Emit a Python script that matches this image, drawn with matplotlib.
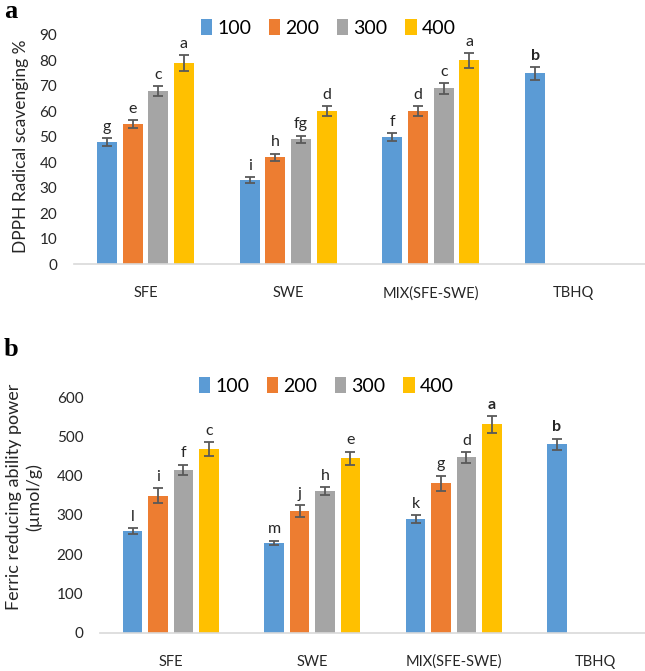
import numpy as np
import matplotlib
matplotlib.use("Agg")
import matplotlib.pyplot as plt

# ============== PLT Configuration ================
plt.rcParams.update({
    "font.family": ["Lato", "DejaVu Sans"],
    "axes.edgecolor": "#d9d9d9",
})

# ============== Data ================
categories = ["SFE", "SWE", "MIX(SFE-SWE)", "TBHQ"]
series_names = ["100", "200", "300", "400"]
colors = ["#5b9bd5", "#ed7d31", "#a5a5a5", "#ffc000"]

# panel a: DPPH radical scavenging %
dpph_100 = [48, 33, 50, 75]
dpph_200 = [55, 42, 60, np.nan]
dpph_300 = [68, 49, 69, np.nan]
dpph_400 = [79, 60, 80, np.nan]
dpph_err_100 = [1.5, 1.0, 1.5, 2.5]
dpph_err_200 = [1.7, 1.4, 2.0, np.nan]
dpph_err_300 = [2.0, 1.5, 2.0, np.nan]
dpph_err_400 = [3.0, 2.0, 3.0, np.nan]
dpph_letters_100 = ["g", "i", "f", "b"]
dpph_letters_200 = ["e", "h", "d", ""]
dpph_letters_300 = ["c", "fg", "c", ""]
dpph_letters_400 = ["a", "d", "a", ""]
dpph_bold = [(0, 3)]  # (series index, category index)

# panel b: FRAP (umol/g)
frap_100 = [258, 228, 290, 480]
frap_200 = [349, 310, 380, np.nan]
frap_300 = [415, 360, 446, np.nan]
frap_400 = [468, 444, 530, np.nan]
frap_err_100 = [8, 6, 10, 14]
frap_err_200 = [18, 15, 20, np.nan]
frap_err_300 = [13, 10, 14, np.nan]
frap_err_400 = [18, 17, 22, np.nan]
frap_letters_100 = ["l", "m", "k", "b"]
frap_letters_200 = ["i", "j", "g", ""]
frap_letters_300 = ["f", "h", "d", ""]
frap_letters_400 = ["c", "e", "a", ""]
frap_bold = [(0, 3), (3, 2)]

W, H = 645, 671
fig = plt.figure(figsize=(W / 100, H / 100), dpi=100)


def px_axes(left, right, top, bottom):
    return fig.add_axes([left / W, 1 - bottom / H, (right - left) / W, (bottom - top) / H])


def draw_panel(ax, vals, errs, letters, bold, ymax, ystep):
    x = np.arange(len(categories))
    step, width = 0.18, 0.14
    for i, (v, e, lab) in enumerate(zip(vals, errs, letters)):
        xs = x + (i - 1.5) * step
        ax.bar(xs, v, width, color=colors[i], label=series_names[i], zorder=2)
        ax.errorbar(xs, v, yerr=e, fmt="none", ecolor="#595959",
                    elinewidth=1.3, capsize=3.5, capthick=1.3, zorder=3)
        for j, (xi, vi, ei, li) in enumerate(zip(xs, v, e, lab)):
            if not li:
                continue
            ax.annotate(li, (xi, vi + ei), xytext=(0, 3), textcoords="offset points",
                        ha="center", va="bottom", fontsize=11.5,
                        fontweight="bold" if (i, j) in bold else "normal", color="#262626")
    ax.set_xlim(-0.5, len(categories) - 0.5)
    ax.set_ylim(0, ymax)
    ax.set_yticks(np.arange(0, ymax + 1, ystep))
    ax.set_xticks(x)
    ax.set_xticklabels(categories)
    ax.tick_params(axis="both", length=0, labelsize=11, labelcolor="#262626")
    ax.tick_params(axis="y", pad=12)
    ax.tick_params(axis="x", pad=16, labelsize=10.5)
    for s in ["top", "right", "left"]:
        ax.spines[s].set_visible(False)
    ax.spines["bottom"].set_linewidth(1.2)


def add_legend(ax, cx, cy):
    fig.legend(*ax.get_legend_handles_labels(), loc="center",
               bbox_to_anchor=(cx / W, 1 - cy / H), ncol=4, frameon=False,
               fontsize=14, handlelength=0.6, handleheight=0.9,
               handletextpad=0.25, columnspacing=0.9)


# ================ Panel a ===================
ax1 = px_axes(74, 645, 35, 264)
draw_panel(ax1,
           [dpph_100, dpph_200, dpph_300, dpph_400],
           [dpph_err_100, dpph_err_200, dpph_err_300, dpph_err_400],
           [dpph_letters_100, dpph_letters_200, dpph_letters_300, dpph_letters_400],
           dpph_bold, 90, 10)
fig.text(21 / W, 1 - 146 / H, "DPPH Radical scavenging %", rotation=90,
         ha="center", va="center", fontsize=12.5, color="#262626")
add_legend(ax1, 328, 28)

# ================ Panel b ===================
ax2 = px_axes(100, 666, 397, 632.5)
draw_panel(ax2,
           [frap_100, frap_200, frap_300, frap_400],
           [frap_err_100, frap_err_200, frap_err_300, frap_err_400],
           [frap_letters_100, frap_letters_200, frap_letters_300, frap_letters_400],
           frap_bold, 600, 100)
fig.text(24 / W, 1 - 497 / H, "Ferric reducing ability power\n(µmol/g)", rotation=90,
         ha="center", va="center", ma="center", fontsize=13, color="#262626",
         linespacing=1.25)
add_legend(ax2, 326, 386)

# panel tags
fig.text(4 / W, 1 - 12 / H, "a", fontsize=19, fontweight="bold",
         family="Liberation Serif", va="center", ha="left")
fig.text(4 / W, 1 - 350 / H, "b", fontsize=19, fontweight="bold",
         family="Liberation Serif", va="center", ha="left")

fig.savefig("out.png", dpi=100)
